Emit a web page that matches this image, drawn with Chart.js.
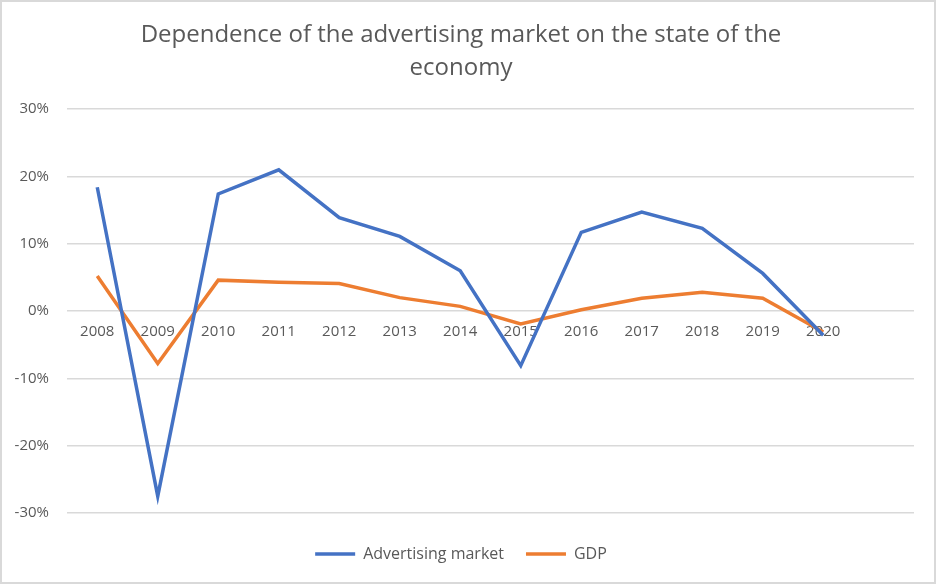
<!DOCTYPE html>
<html>
<head>
<meta charset="utf-8">
<script src="https://cdn.jsdelivr.net/npm/chart.js@4.4.1/dist/chart.umd.min.js"></script>
<style>
  html, body { margin: 0; padding: 0; background: #fff; }
  #box { width: 936px; height: 584px; box-sizing: border-box; border: 2px solid #d9d9d9; }
</style>
</head>
<body>
<div id="box"><canvas id="myChart"></canvas></div>
<script>
// years on the x axis (last slot is empty, like the original)
var years = ['2008', '2009', '2010', '2011', '2012', '2013', '2014', '2015', '2016', '2017', '2018', '2019', '2020', ''];
// yearly change, %
var advertising = [18.4, -27.5, 17.4, 21.0, 13.9, 11.1, 6.0, -8.1, 11.7, 14.7, 12.3, 5.6, -3.6, null];
var gdp = [5.2, -7.8, 4.6, 4.3, 4.1, 2.0, 0.7, -1.9, 0.2, 1.9, 2.8, 1.9, -3.1, null];
var yTicks = [-30, -20, -10, 0, 10, 20, 30];

var grey = '#595959';
var font = 'Open Sans';

var ctx = document.getElementById('myChart').getContext('2d');
var myChart = new Chart(ctx, {
    type: 'line',
    data: {
        labels: years,
        datasets: [{
            label: 'Advertising market',
            data: advertising,
            borderColor: '#4472C4',
            backgroundColor: '#4472C4',
            borderWidth: 3.5,
            pointRadius: 0,
            tension: 0
        }, {
            label: 'GDP',
            data: gdp,
            borderColor: '#ED7D31',
            backgroundColor: '#ED7D31',
            borderWidth: 3.5,
            pointRadius: 0,
            tension: 0
        }]
    },
    options: {
        responsive: true,
        maintainAspectRatio: false,
        animation: false,
        layout: { padding: { left: 6, right: 20, top: 6, bottom: 10 } },
        plugins: {
            title: {
                display: true,
                text: ['Dependence of the advertising market on the state of the', 'economy'],
                color: grey,
                font: { family: font, size: 24, weight: 'normal', lineHeight: 1.4 },
                padding: { top: 10, bottom: 24 }
            },
            legend: {
                position: 'bottom',
                // empty legend title, only used as a spacer above the items
                title: { display: true, text: '', font: { size: 1, lineHeight: 1 }, padding: { top: 0, bottom: 10 } },
                labels: {
                    color: grey,
                    font: { family: font, size: 16 },
                    usePointStyle: true,
                    pointStyle: 'line',
                    pointStyleWidth: 40,
                    padding: 22
                }
            },
            tooltip: { enabled: false }
        },
        scales: {
            x: {
                position: { y: 0 },
                offset: true,
                grid: { display: false },
                border: { display: false },
                ticks: { color: grey, font: { family: font, size: 15 }, padding: 4, maxRotation: 0, autoSkip: false }
            },
            y: {
                min: -30,
                max: 30,
                afterBuildTicks: function (axis) {
                    axis.ticks = yTicks.map(function (v) { return { value: v }; });
                },
                afterFit: function (axis) { axis.width = 59; },
                grid: { color: '#d9d9d9', lineWidth: 1.5, drawTicks: false },
                border: { display: false },
                ticks: {
                    color: grey,
                    font: { family: font, size: 15 },
                    padding: 18,
                    callback: function (v) { return v + '%'; }
                }
            }
        }
    }
});
</script>
</body>
</html>
